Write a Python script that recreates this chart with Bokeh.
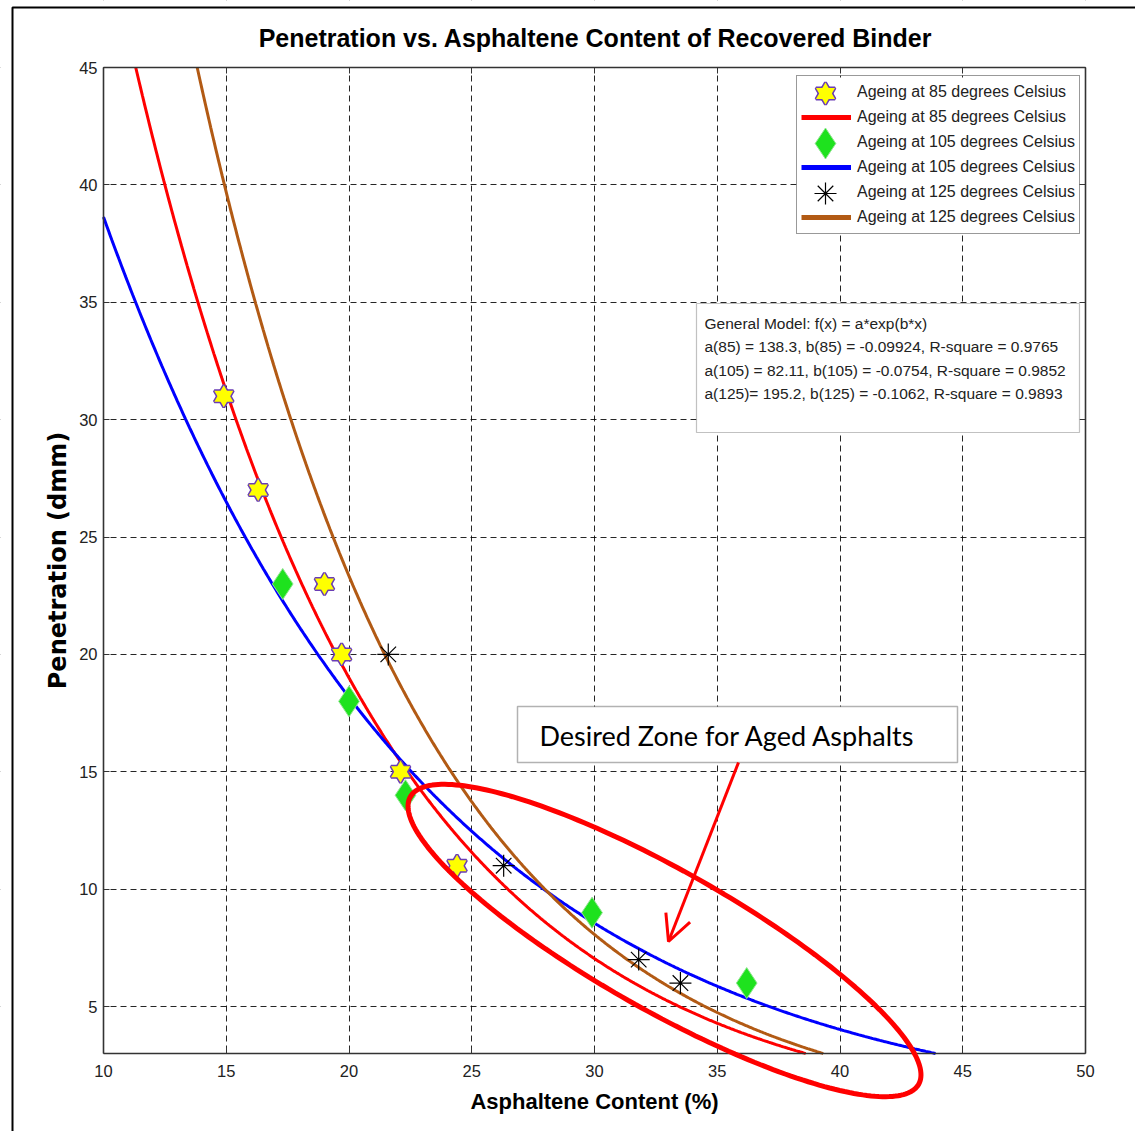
import numpy as np
from bokeh.plotting import figure
from bokeh.models import (Range1d, LinearAxis, FixedTicker, Legend, LegendItem,
                          PolyAnnotation, Label, Arrow, OpenHead, BoxAnnotation)
from bokeh.embed import file_html
from bokeh.resources import INLINE

# ---------------- data ----------------
temps = ["85", "105", "125"]
x85 = [14.9, 16.3, 19.0, 19.7, 22.1, 24.4]
y85 = [31, 27, 23, 20, 15, 11]
x105 = [17.3, 20.0, 22.3, 29.9, 36.2]
y105 = [23, 18, 14, 9, 6]
x125 = [21.6, 26.3, 31.8, 33.5]
y125 = [20, 11, 7, 6]
fit_a = [138.3, 82.11, 195.2]
fit_b = [-0.09924, -0.0754, -0.1062]
fit_r2 = ["0.9765", "0.9852", "0.9893"]
x_ticks = [10, 15, 20, 25, 30, 35, 40, 45, 50]
y_ticks = [5, 10, 15, 20, 25, 30, 35, 40, 45]

NARROW = "Liberation Sans"
WIDE = "DejaVu Sans"
W, H = 1135, 1131
L, R, T, B = 103, 50, 67, 78          # plot box inside the canvas
X0, X1, Y0, Y1 = 10, 50, 3, 45
SX = (W - L - R) / (X1 - X0)
SY = (H - T - B) / (Y1 - Y0)

def dx(px):
    return X0 + (px - L) / SX

def dy(py):
    return Y1 - (py - T) / SY

p = figure(width=W, height=H, x_range=Range1d(dx(0), dx(W)), y_range=Range1d(dy(H), dy(0)),
           output_backend="svg", toolbar_location=None, min_border=0)
p.background_fill_color = "white"
p.border_fill_color = "white"
p.outline_line_color = None

# grids (limited to the plot box by white covers)
for g in (p.xgrid[0], p.ygrid[0]):
    g.grid_line_color = "black"
    g.grid_line_dash = "6 4"
    g.grid_line_width = 1
    g.grid_line_alpha = 0.85
p.xgrid.ticker = FixedTicker(ticks=x_ticks)
p.ygrid.ticker = FixedTicker(ticks=y_ticks)
for kw in (dict(right=X0), dict(left=X1), dict(bottom=Y1), dict(top=Y0)):
    p.add_layout(BoxAnnotation(fill_color="white", fill_alpha=1, line_color=None,
                               level="underlay", **kw))

# axes at the plot box edges
def style_axis(ax, labels=True):
    ax.major_tick_in = 6
    ax.major_tick_out = 0
    ax.minor_tick_line_color = None
    ax.axis_line_color = "#333333"
    ax.axis_line_width = 1.6
    ax.major_tick_line_color = "#333333"
    ax.major_label_text_font = NARROW
    ax.major_label_text_font_size = "16.5px"
    ax.major_label_text_color = "#222222" if labels else None

xa = p.xaxis[0]
ya = p.yaxis[0]
style_axis(xa)
style_axis(ya)
xa.ticker = FixedTicker(ticks=x_ticks)
ya.ticker = FixedTicker(ticks=y_ticks)
xa.fixed_location = Y0
ya.fixed_location = X0
xa.bounds = (X0, X1)
ya.bounds = (Y0, Y1)
xa.axis_label = "Asphaltene Content (%)"
xa.axis_label_text_font = NARROW
xa.axis_label_text_font_size = "22px"
xa.axis_label_text_font_style = "bold"
xa.axis_label_text_color = "black"
xa.major_label_standoff = 11
xa.axis_label_standoff = 9
ya.axis_label = "Penetration (dmm)"
ya.axis_label_text_font = WIDE
ya.axis_label_text_font_size = "24px"
ya.axis_label_text_font_style = "bold"
ya.axis_label_text_color = "black"
ya.major_label_standoff = 6
ya.axis_label_standoff = 4

top = LinearAxis(ticker=FixedTicker(ticks=x_ticks), fixed_location=Y1, bounds=(X0, X1))
right = LinearAxis(ticker=FixedTicker(ticks=y_ticks), fixed_location=X1, bounds=(Y0, Y1))
style_axis(top, labels=False)
style_axis(right, labels=False)
p.add_layout(top, "above")
p.add_layout(right, "right")

# title
p.add_layout(Label(x=dx(595), y=dy(37), text="Penetration vs. Asphaltene Content of Recovered Binder",
                   text_font=NARROW, text_font_size="25px", text_font_style="bold",
                   text_color="black", text_align="center", text_baseline="middle"))

# legend geometry (screen pixels)
LEG_L, LEG_T, PAD, GW, GH, SP = 796, 77, 4, 50, 24, 1
LEG_H = 6 * GH + 5 * SP + 2 * PAD
LEG_W = 282
# white legend background under the swatches (grid hidden there)
p.add_layout(BoxAnnotation(left=dx(LEG_L), right=dx(LEG_L + LEG_W), top=dy(LEG_T),
                           bottom=dy(LEG_T + LEG_H), fill_color="white", fill_alpha=1,
                           line_color=None, level="underlay"))

# fitted curves  f(x) = a*exp(b*x), drawn inside the plot box
colors = ["#ff0000", "#0000ff", "#b25a14"]
for a, b, c in zip(fit_a, fit_b, colors):
    lo = max(X0, np.log(Y1 / a) / b)
    hi = min(X1, np.log(Y0 / a) / b)
    xf = np.linspace(lo, hi, 600)
    p.line(xf, a * np.exp(b * xf), line_color=c, line_width=3)
legend_lines = [p.line([X1 + 20, X1 + 21], [Y0 - 20, Y0 - 20], line_color=c, line_width=5)
                for c in colors]

# 85 C: hexagram stars (two triangles)
STAR = 19
PURPLE = "#6a3db5"
GREEN = "#1ee21e"

def stars(xs, ys):
    r = [p.scatter(xs, ys, marker=m, size=STAR, fill_color="yellow", line_color=PURPLE,
                   line_width=3) for m in ("triangle", "inverted_triangle")]
    r += [p.scatter(xs, ys, marker=m, size=STAR, fill_color="yellow", line_color=None)
          for m in ("triangle", "inverted_triangle")]
    return r

star_r = stars(x85, y85)
d1 = p.scatter(x105, y105, marker="diamond", size=31, fill_color=GREEN,
               line_color="#8fe48f", line_width=1)
a1 = p.scatter(x125, y125, marker="asterisk", size=22, line_color="black", line_width=1.2)

# full-size legend marker swatches (the legend itself draws them too small)
gx = LEG_L + PAD + GW / 2
row_y = [LEG_T + PAD + GH / 2 + i * (GH + SP) for i in range(6)]
stars([dx(gx)], [dy(row_y[0])])
p.scatter([dx(gx)], [dy(row_y[2])], marker="diamond", size=31, fill_color=GREEN,
          line_color="#8fe48f", line_width=1)
p.scatter([dx(gx)], [dy(row_y[4])], marker="asterisk", size=22, line_color="black",
          line_width=1.2)
ghost = [p.scatter([], [], marker=m, fill_alpha=0, line_alpha=0)
         for m in ("hex", "diamond", "asterisk")]

labels = ["Ageing at %s degrees Celsius" % t for t in temps]
items = [
    LegendItem(label=labels[0], renderers=[ghost[0]]),
    LegendItem(label=labels[0], renderers=[legend_lines[0]]),
    LegendItem(label=labels[1], renderers=[ghost[1]]),
    LegendItem(label=labels[1], renderers=[legend_lines[1]]),
    LegendItem(label=labels[2], renderers=[ghost[2]]),
    LegendItem(label=labels[2], renderers=[legend_lines[2]]),
]
leg = Legend(items=items, location=(LEG_L, H - (LEG_T + LEG_H)))
leg.margin = 0
leg.padding = PAD
leg.spacing = SP
leg.glyph_height = GH
leg.glyph_width = GW
leg.label_standoff = 6
leg.label_text_font = NARROW
leg.label_text_font_size = "16px"
leg.label_text_color = "#222222"
leg.border_line_color = "#333333"
leg.border_line_width = 1.2
leg.background_fill_alpha = 0
p.add_layout(leg)

# model text box
p.add_layout(BoxAnnotation(left=dx(696), right=dx(1079), top=dy(303), bottom=dy(432),
                           fill_color="white", fill_alpha=1, line_color="#333333", line_width=1.2))
model_lines = ["General Model: f(x) = a*exp(b*x)"]
for i, t in enumerate(temps):
    eq = "=" if t == "125" else " ="
    model_lines.append("a(%s)%s %s, b(%s) = %s, R-square = %s" % (t, eq, fit_a[i], t, fit_b[i], fit_r2[i]))
for k, txt in enumerate(model_lines):
    p.add_layout(Label(x=dx(704), y=dy(323 + k * 23.4), text=txt, text_font=NARROW,
                       text_font_size="15.5px", text_color="#222222", text_baseline="middle",
                       text_align="left"))

# desired zone box + arrow + ellipse
p.add_layout(BoxAnnotation(left=dx(517), right=dx(957), top=dy(706), bottom=dy(762),
                           fill_color="white", fill_alpha=1, line_color="black", line_width=1.5))
p.add_layout(Label(x=dx(539), y=dy(735), text="Desired Zone for Aged Asphalts",
                   text_font="Lato", text_font_size="27px", text_color="black",
                   text_baseline="middle", text_align="left"))
p.add_layout(Arrow(end=OpenHead(size=26, line_color="red", line_width=3),
                   x_start=dx(738), y_start=dy(762), x_end=dx(668), y_end=dy(941),
                   line_color="red", line_width=3))

tt = np.linspace(0, 2 * np.pi, 240)
th = np.deg2rad(29.5)
ex = 664 + 292 * np.cos(th) * np.cos(tt) - 70 * np.sin(th) * np.sin(tt)
ey = 940 + 292 * np.sin(th) * np.cos(tt) + 70 * np.cos(th) * np.sin(tt)
p.add_layout(PolyAnnotation(xs=[dx(v) for v in ex], ys=[dy(v) for v in ey],
                            fill_alpha=0, line_color="red", line_alpha=1, line_width=5))

# outer page frame
p.add_layout(PolyAnnotation(xs=[dx(12), dx(1300), dx(1300), dx(12)],
                            ys=[dy(7), dy(7), dy(1300), dy(1300)],
                            fill_alpha=0, line_color="black", line_alpha=1, line_width=2))

open("out.html", "w").write(file_html(p, INLINE))
